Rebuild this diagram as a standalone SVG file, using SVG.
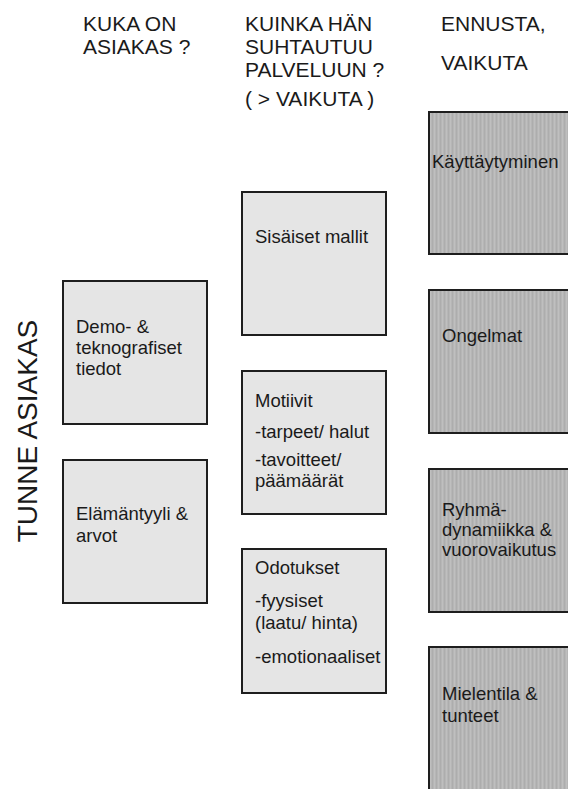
<svg xmlns="http://www.w3.org/2000/svg" width="568" height="789" viewBox="0 0 568 789">
  <defs>
    <!-- fine vertical grain used on the dark outcome boxes -->
    <pattern id="grain" width="4" height="8" patternUnits="userSpaceOnUse">
      <rect width="4" height="8" fill="#b6b6b6"/>
      <rect x="0" width="1" height="8" fill="#adadad"/>
      <rect x="2" width="1" height="8" fill="#bfbfbf"/>
    </pattern>
    <style>
      text { font-family: "Liberation Sans", Arial, sans-serif; fill: #1a1a1a; }
      .head { font-size: 21px; }
      .lbl { font-size: 18.5px; }
      .side { font-size: 28px; }
      .light { fill: #e5e5e5; stroke: #1e1e1e; stroke-width: 2; }
      .dark { fill: url(#grain); stroke: #1e1e1e; stroke-width: 2; }
    </style>
  </defs>

  <rect width="568" height="789" fill="#ffffff"/>

  <!-- column headings -->
  <g id="head-who">
    <text class="head" x="83" y="31">KUKA ON</text>
    <text class="head" x="83" y="54">ASIAKAS ?</text>
  </g>
  <g id="head-how">
    <text class="head" x="245" y="31">KUINKA HÄN</text>
    <text class="head" x="245" y="54">SUHTAUTUU</text>
    <text class="head" x="245" y="77">PALVELUUN ?</text>
    <text class="head" x="245" y="106">( &gt; VAIKUTA )</text>
  </g>
  <g id="head-predict">
    <text class="head" x="441" y="31">ENNUSTA,</text>
    <text class="head" x="441" y="70">VAIKUTA</text>
  </g>

  <!-- vertical side title -->
  <g id="side-title">
    <text class="side" transform="translate(37 431) rotate(-90)" text-anchor="middle">TUNNE ASIAKAS</text>
  </g>

  <!-- who the customer is -->
  <g id="demo">
    <rect class="light" x="63" y="281" width="144" height="143"/>
    <text class="lbl" x="76" y="333">Demo- &amp;</text>
    <text class="lbl" x="76" y="354">teknografiset</text>
    <text class="lbl" x="76" y="375">tiedot</text>
  </g>
  <g id="lifestyle">
    <rect class="light" x="63" y="460" width="144" height="143"/>
    <text class="lbl" x="76" y="520">Elämäntyyli &amp;</text>
    <text class="lbl" x="76" y="542">arvot</text>
  </g>

  <!-- attitude towards the service -->
  <g id="inner-models">
    <rect class="light" x="242" y="192" width="144" height="143"/>
    <text class="lbl" x="255" y="243">Sisäiset mallit</text>
  </g>
  <g id="motives">
    <rect class="light" x="242" y="371" width="144" height="143"/>
    <text class="lbl" x="255" y="407">Motiivit</text>
    <text class="lbl" x="255" y="438">-tarpeet/ halut</text>
    <text class="lbl" x="255" y="466">-tavoitteet/</text>
    <text class="lbl" x="255" y="487">päämäärät</text>
  </g>
  <g id="expectations">
    <rect class="light" x="242" y="549" width="144" height="144"/>
    <text class="lbl" x="255" y="574">Odotukset</text>
    <text class="lbl" x="255" y="607">-fyysiset</text>
    <text class="lbl" x="255" y="629">(laatu/ hinta)</text>
    <text class="lbl" x="255" y="663">-emotionaaliset</text>
  </g>

  <!-- predict and influence -->
  <g id="behaviour">
    <rect class="dark" x="429" y="112" width="160" height="142"/>
    <text class="lbl" x="432" y="168">Käyttäytyminen</text>
  </g>
  <g id="problems">
    <rect class="dark" x="429" y="290" width="160" height="143"/>
    <text class="lbl" x="442" y="342">Ongelmat</text>
  </g>
  <g id="group-dynamics">
    <rect class="dark" x="429" y="469" width="160" height="143"/>
    <text class="lbl" x="442" y="516">Ryhmä-</text>
    <text class="lbl" x="442" y="536">dynamiikka &amp;</text>
    <text class="lbl" x="442" y="556">vuorovaikutus</text>
  </g>
  <g id="mood">
    <rect class="dark" x="429" y="647" width="160" height="160"/>
    <text class="lbl" x="442" y="700">Mielentila &amp;</text>
    <text class="lbl" x="442" y="722">tunteet</text>
  </g>

  <!-- no connectors in this chart -->
  <g id="connectors"/>
</svg>
